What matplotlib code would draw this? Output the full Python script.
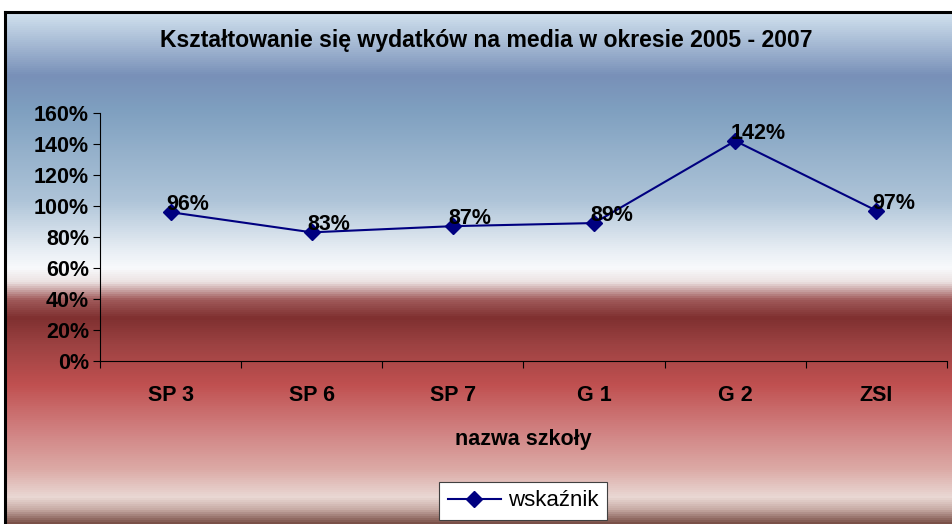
import matplotlib

matplotlib.use("Agg")

import matplotlib.pyplot as plt
import numpy as np
from matplotlib.colors import LinearSegmentedColormap
from matplotlib.lines import Line2D

plt.rcParams["font.family"] = ["Liberation Sans", "DejaVu Sans"]

# dane z wykresu
szkoly = ["SP 3", "SP 6", "SP 7", "G 1", "G 2", "ZSI"]
wskaznik = [96, 83, 87, 89, 142, 97]  # %
y_ticks = [0, 20, 40, 60, 80, 100, 120, 140, 160]

W, H = 952, 524
fig = plt.figure(figsize=(W / 100, H / 100), dpi=100)

# tło wykresu: pionowy gradient (niebieski -> biały -> czerwony)
stops = [
    (12, "#d2e2ef"), (75, "#7890b8"), (110, "#7fa0c0"), (200, "#aec4d8"),
    (250, "#e8eef4"), (268, "#f8fafc"), (282, "#ece2e2"), (300, "#a05a5a"),
    (318, "#7f3030"), (345, "#9c4242"), (385, "#c05050"), (430, "#d08080"),
    (470, "#dcaaa6"), (498, "#ead8d4"), (510, "#c8aca6"), (524, "#7a5048"),
]
y0, y1 = stops[0][0], stops[-1][0]
cmap = LinearSegmentedColormap.from_list(
    "bg", [((y - y0) / (y1 - y0), c) for y, c in stops]
)
bg = fig.add_axes([5 / W, 0, 1 - 5 / W, (H - 12) / H])
bg.imshow(np.linspace(0, 1, 256)[:, None], aspect="auto", cmap=cmap,
          extent=[0, 1, 0, 1], origin="upper")
bg.set_xlim(0, 1)
bg.set_ylim(0, 1)
bg.set_xticks([])
bg.set_yticks([])
for name, sp in bg.spines.items():
    if name in ("left", "top"):
        sp.set_linewidth(2.2)
        sp.set_color("black")
    else:
        sp.set_visible(False)

# właściwy wykres
ax = fig.add_axes([100 / W, (H - 361) / H, 847 / W, 248 / H])
ax.patch.set_visible(False)
xs = np.arange(len(szkoly)) + 0.5
ax.plot(xs, wskaznik, color="#000080", linewidth=1.5, marker="D",
        markersize=8.5, markerfacecolor="#000080", markeredgecolor="#000080")

for x, v in zip(xs, wskaznik):
    ax.annotate(f"{v}%", (x, v), xytext=(-3, 5.5), textcoords="offset points",
                ha="left", va="center", fontsize=15.5, fontweight="bold")

ax.set_xlim(0, len(szkoly))
ax.set_ylim(0, 160)
ax.set_yticks(y_ticks)
ax.set_yticklabels([f"{t}%" for t in y_ticks], fontsize=15.5, fontweight="bold")
ax.set_xticks(np.arange(len(szkoly) + 1))
ax.set_xticklabels([])
ax.set_xticks(xs, minor=True)
ax.set_xticklabels(szkoly, minor=True, fontsize=15.5, fontweight="bold")
ax.tick_params(axis="x", which="minor", length=0, pad=17)
ax.tick_params(axis="x", which="major", length=5, width=0.8)
ax.tick_params(axis="y", length=5, width=0.8, pad=3)
ax.spines["top"].set_visible(False)
ax.spines["right"].set_visible(False)
ax.spines["left"].set_linewidth(0.8)
ax.spines["bottom"].set_linewidth(0.8)
ax.set_xlabel("nazwa szkoły", fontsize=15.5, fontweight="bold", labelpad=17)

fig.text(486 / W, 1 - 41 / H,
         "Kształtowanie się wydatków na media w okresie 2005 - 2007",
         ha="center", va="center", fontsize=16.6, fontweight="bold")

handle = Line2D([], [], color="#000080", linewidth=1.5, marker="D",
                markersize=8.5)
leg = fig.legend([handle], ["wskaźnik"], loc="center",
                 bbox_to_anchor=(523 / W, 1 - 501 / H), fontsize=16,
                 frameon=True, fancybox=False, handlelength=2.4,
                 borderpad=0.4, handletextpad=0.3, framealpha=1)
leg.get_frame().set_edgecolor("#404040")
leg.get_frame().set_linewidth(0.8)

fig.savefig("out.png", dpi=100)
